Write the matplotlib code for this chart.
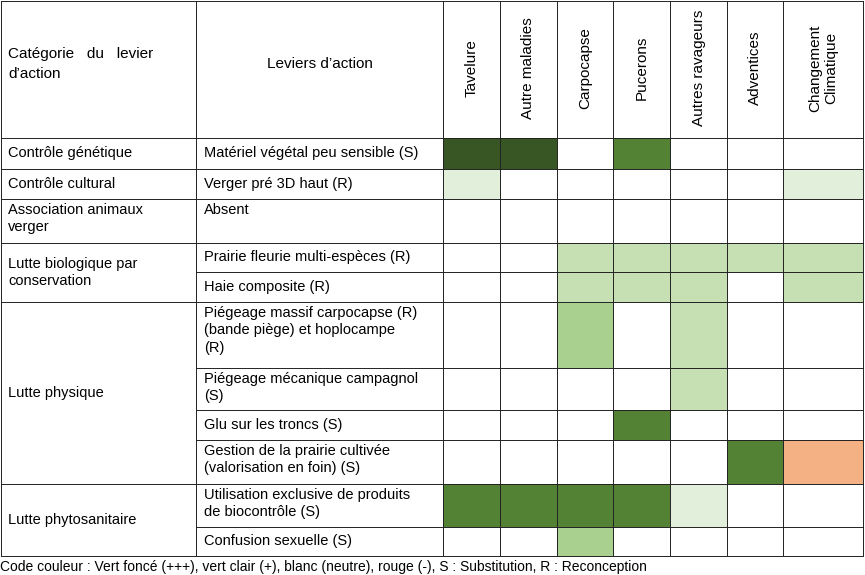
import matplotlib
matplotlib.use("Agg")
import matplotlib.pyplot as plt
from matplotlib.colors import ListedColormap
import numpy as np

plt.rcParams["font.family"] = "Liberation Sans"

columns = ["Tavelure", "Autre maladies", "Carpocapse", "Pucerons",
           "Autres ravageurs", "Adventices", "Changement\nClimatique"]
leviers = ["Matériel végétal peu sensible (S)", "Verger pré 3D haut (R)", "Absent",
           "Prairie fleurie multi-espèces (R)", "Haie composite (R)",
           "Piégeage massif carpocapse (R)\n(bande piège) et hoplocampe\n(R)",
           "Piégeage mécanique campagnol\n(S)", "Glu sur les troncs (S)",
           "Gestion de la prairie cultivée\n(valorisation en foin) (S)",
           "Utilisation exclusive de produits\nde biocontrôle (S)", "Confusion sexuelle (S)"]
categories = [("Contrôle génétique", 0, 1), ("Contrôle cultural", 1, 2),
              ("Association animaux\nverger", 2, 3),
              ("Lutte biologique par\nconservation", 3, 5),
              ("Lutte physique", 5, 9), ("Lutte phytosanitaire", 9, 11)]
# 0 white, 1 very light, 2 light, 3 light-mid, 4 medium, 5 dark, 6 orange
levels = [
    [5, 5, 0, 4, 0, 0, 0],
    [1, 0, 0, 0, 0, 0, 1],
    [0, 0, 0, 0, 0, 0, 0],
    [0, 0, 2, 2, 2, 2, 2],
    [0, 0, 2, 2, 2, 0, 2],
    [0, 0, 3, 0, 2, 0, 0],
    [0, 0, 0, 0, 2, 0, 0],
    [0, 0, 0, 4, 0, 0, 0],
    [0, 0, 0, 0, 0, 4, 6],
    [4, 4, 4, 4, 1, 0, 0],
    [0, 0, 3, 0, 0, 0, 0],
]
palette = ["#ffffff", "#e2efda", "#c6e0b4", "#a9d08e", "#548235", "#375623", "#f4b183"]
caption = "Code couleur : Vert foncé (+++), vert clair (+), blanc (neutre), rouge (-), S : Substitution, R : Reconception"

W, H = 865, 575
xe = [1, 196, 443, 500, 557, 613, 670, 727, 783, 863]
ye = [1, 138, 169, 199, 243, 272, 302, 368, 410, 440, 484, 527, 556]

fig = plt.figure(figsize=(W / 100, H / 100), dpi=100)
ax = fig.add_axes([0, 0, 1, 1])
ax.set_xlim(0, W); ax.set_ylim(H, 0); ax.axis("off")

cmap = ListedColormap(palette)
ax.pcolormesh(xe[2:], ye[1:], np.array(levels), cmap=cmap, vmin=-0.5, vmax=6.5,
              edgecolor="none", linewidth=0)
lc = "#222222"
lw = 0.7
for r in range(1, len(ye)):
    ax.plot([xe[1], xe[-1]], [ye[r], ye[r]], color=lc, lw=lw)
ax.plot([xe[0], xe[-1]], [ye[0], ye[0]], color=lc, lw=lw)
for c in range(len(xe)):
    ax.plot([xe[c], xe[c]], [ye[0], ye[-1]], color=lc, lw=lw)
ax.plot([xe[0], xe[1]], [ye[1], ye[1]], color=lc, lw=lw)
for name, a, b in categories:
    ax.plot([xe[0], xe[1]], [ye[b + 1], ye[b + 1]], color=lc, lw=lw)
    if "\n" in name and b - a == 1:
        ax.text(8, ye[a + 1] + 4, name, va="top", ha="left", fontsize=10.5, linespacing=1.3)
    else:
        ax.text(8, (ye[a + 1] + ye[b + 1]) / 2, name, va="center", ha="left",
                fontsize=10.5, linespacing=1.3)

ax.text(8, 64, "Catégorie   du   levier\nd\u2019action", va="center", ha="left",
        fontsize=11, linespacing=1.5)
ax.text((xe[1] + xe[2]) / 2, 64, "Leviers d\u2019action", va="center", ha="center", fontsize=11)
for i, c in enumerate(columns):
    ax.text((xe[i + 2] + xe[i + 3]) / 2, 68, c, rotation=90, va="center", ha="center",
            fontsize=11, multialignment="center")
for i, lv in enumerate(leviers):
    if "\n" in lv or lv == "Absent":
        ax.text(204, ye[i + 1] + 4, lv, va="top", ha="left", fontsize=10.5, linespacing=1.3)
    else:
        ax.text(204, (ye[i + 1] + ye[i + 2]) / 2, lv, va="center", ha="left", fontsize=10.5)
ax.text(0, 567, caption, va="center", ha="left", fontsize=10)
fig.savefig("out.png", dpi=100)
